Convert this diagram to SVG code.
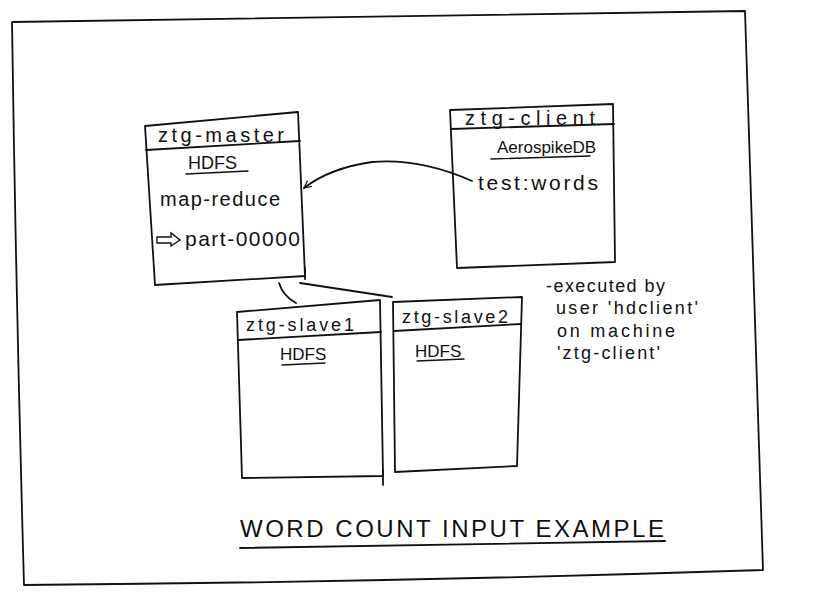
<svg xmlns="http://www.w3.org/2000/svg" width="825" height="595" viewBox="0 0 825 595">
<style>
.ln{fill:none;stroke:#111;stroke-width:1.8;stroke-linecap:round;stroke-linejoin:round}
.thin{fill:none;stroke:#111;stroke-width:1.4;stroke-linecap:round}
.t{font-family:"Liberation Sans","DejaVu Sans",sans-serif;fill:#111}
</style>
<defs>
<marker id="ah" viewBox="0 0 10 10" refX="9" refY="5" markerWidth="9" markerHeight="9" orient="auto" markerUnits="userSpaceOnUse">
<path d="M1,1 L9,5 L1,9" fill="none" stroke="#111" stroke-width="1.4"/>
</marker>
</defs>
<rect width="825" height="595" fill="#fff"/>
<path class="ln" d="M12,22 L745,11 L763,570 Q400,582 24,585 Q16,300 12,22 Z"/>

<g id="ztg-master">
<path class="ln" d="M145,126 L298,112 L305,276 L155,285 Z"/>
<path class="ln" d="M146,150 L300,141"/>
<text class="t" x="158" y="142" font-size="20" textLength="126">ztg-master</text>
<text class="t" x="188" y="169" font-size="18">HDFS</text>
<path class="thin" d="M186,174 L248,171"/>
<text class="t" x="160" y="206" font-size="20" textLength="120">map-reduce</text>
<path class="thin" d="M157,237 L171,237 L171,233 L180,240 L171,246 L171,243 L157,243 Z"/>
<text class="t" x="185" y="246" font-size="21" textLength="115">part-00000</text>
</g>

<g id="ztg-client">
<path class="ln" d="M450,110 L613,104 L615,262 L457,268 Z"/>
<path class="ln" d="M451,129 L614,124"/>
<text class="t" x="465" y="125" font-size="20" textLength="130">ztg-client</text>
<text class="t" x="497" y="153" font-size="17">AerospikeDB</text>
<path class="thin" d="M491,159 L590,156"/>
<text class="t" x="478" y="190" font-size="21" textLength="120">test:words</text>
</g>

<g id="ztg-slave1">
<path class="ln" d="M237,312 L380,300 L383,476 L242,478 Z"/>
<path class="ln" d="M383,470 L383,485"/>
<path class="ln" d="M238,340 L381,332"/>
<text class="t" x="246" y="331" font-size="18" textLength="108">ztg-slave1</text>
<text class="t" x="280" y="360" font-size="17">HDFS</text>
<path class="thin" d="M282,365 L325,363"/>
</g>

<g id="ztg-slave2">
<path class="ln" d="M393,302 L522,297 L517,466 L395,472 Z"/>
<path class="ln" d="M394,331 L521,324"/>
<text class="t" x="402" y="323" font-size="18" textLength="106">ztg-slave2</text>
<text class="t" x="415" y="357" font-size="17">HDFS</text>
<path class="thin" d="M417,361 L464,359"/>
</g>

<g id="connectors">
<path class="ln" d="M472,181 Q420,158 372,162 Q330,168 304,188" marker-end="url(#ah)"/>
<path class="ln" d="M305,268 L305,279"/>
<path class="ln" d="M279,283 Q283,296 296,303"/>
<path class="ln" d="M300,283 L392,297"/>
</g>

<g id="note">
<text class="t" x="546" y="292" font-size="18" textLength="119">-executed by</text>
<text class="t" x="556" y="314" font-size="18" textLength="142">user 'hdclient'</text>
<text class="t" x="557" y="337" font-size="18" textLength="118">on machine</text>
<text class="t" x="557" y="359" font-size="18" textLength="103">'ztg-client'</text>
</g>

<g id="title">
<text class="t" x="240" y="537" font-size="24" textLength="425" letter-spacing="1">WORD COUNT INPUT EXAMPLE</text>
<path class="ln" d="M240,548 L665,541"/>
</g>
</svg>
